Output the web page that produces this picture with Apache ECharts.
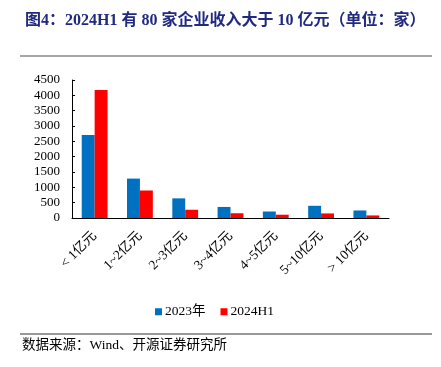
<!DOCTYPE html>
<html>
<head>
<meta charset="utf-8">
<script src="https://cdn.jsdelivr.net/npm/echarts@6/dist/echarts.min.js"></script>
<style>
  html, body { margin: 0; padding: 0; background: #fff; }
  #main { width: 441px; height: 367px; }
</style>
</head>
<body>
<div id="main"></div>
<script>
var categories = ['< 1亿元', '1~2亿元', '2~3亿元', '3~4亿元', '4~5亿元', '5~10亿元', '> 10亿元'];
var values2023 = [2710, 1285, 640, 360, 212, 398, 246];
var values2024H1 = [4170, 897, 269, 155, 107, 149, 84];
var seriesNames = ['2023年', '2024H1'];

var serif = '"Liberation Serif", "Times New Roman", "Noto Sans CJK SC", serif';

var myChart = echarts.init(document.getElementById('main'));
myChart.setOption({
    animation: false,
    title: {
        text: '图4：2024H1 有 80 家企业收入大于 10 亿元（单位：家）',
        left: 20,
        top: 8,
        textStyle: {
            color: '#1F2A80',
            fontSize: 16,
            fontWeight: 'bold',
            fontFamily: serif
        }
    },
    graphic: [
        {
            type: 'line',
            shape: { x1: 20, y1: 56, x2: 432, y2: 56 },
            style: { stroke: '#888', lineWidth: 1.5 }
        },
        {
            type: 'line',
            shape: { x1: 20, y1: 334, x2: 432, y2: 334 },
            style: { stroke: '#333', lineWidth: 1 }
        },
        {
            type: 'text',
            left: 22,
            top: 339,
            style: {
                text: '数据来源：Wind、开源证券研究所',
                fill: '#000',
                fontSize: 13.5,
                fontFamily: serif
            }
        }
    ],
    legend: {
        data: seriesNames,
        left: 150,
        top: 300,
        itemWidth: 7,
        itemHeight: 7,
        itemGap: 15,
        icon: 'rect',
        textStyle: { fontSize: 13.5, color: '#000', fontFamily: serif, padding: [0, 0, 0, -2] }
    },
    grid: {
        left: 72,
        right: 52,
        top: 80,
        bottom: 149
    },
    xAxis: {
        type: 'category',
        data: categories,
        axisLine: { lineStyle: { color: '#000', width: 1 } },
        axisTick: { inside: true, length: 4, lineStyle: { color: '#555' } },
        axisLabel: {
            rotate: 45,
            interval: 0,
            margin: 16,
            fontSize: 13.5,
            color: '#000',
            fontFamily: serif
        }
    },
    yAxis: {
        type: 'value',
        min: 0,
        max: 4500,
        interval: 500,
        splitLine: { show: false },
        axisLine: { show: true, lineStyle: { color: '#000', width: 1 } },
        axisTick: { show: true, inside: true, length: 3, lineStyle: { color: '#000' } },
        axisLabel: {
            margin: 12,
            fontSize: 13,
            color: '#000',
            fontFamily: serif,
            formatter: function (v) { return String(v); }
        }
    },
    series: [
        {
            name: seriesNames[0],
            type: 'bar',
            data: values2023,
            barGap: '0%',
            barCategoryGap: '43%',
            itemStyle: { color: '#0070C0' }
        },
        {
            name: seriesNames[1],
            type: 'bar',
            data: values2024H1,
            itemStyle: { color: '#FF0000' }
        }
    ]
});
</script>
</body>
</html>
